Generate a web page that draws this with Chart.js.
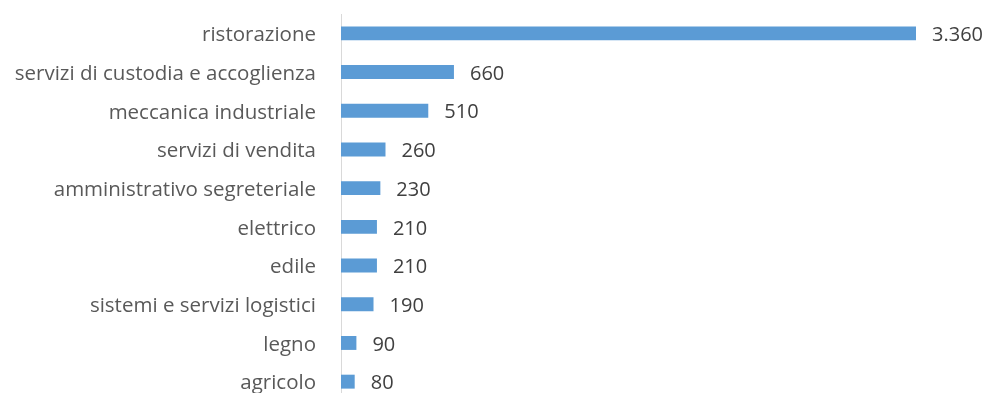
<!DOCTYPE html>
<html>
<head>
<meta charset="utf-8">
<script src="https://cdn.jsdelivr.net/npm/chart.js@4/dist/chart.umd.min.js"></script>
<style>
  html, body { margin: 0; padding: 0; background: #fff; overflow: hidden; }
  canvas { display: block; }
</style>
</head>
<body>
<canvas id="chart" width="989" height="401"></canvas>
<script>
const categories = [
    'ristorazione',
    'servizi di custodia e accoglienza',
    'meccanica industriale',
    'servizi di vendita',
    'amministrativo segreteriale',
    'elettrico',
    'edile',
    'sistemi e servizi logistici',
    'legno',
    'agricolo'
];
const values = [3360, 660, 510, 260, 230, 210, 210, 190, 90, 80];

// thousands separator with a dot, as in the picture
function formatIt(n) {
    return String(n).replace(/\B(?=(\d{3})+(?!\d))/g, '.');
}

const valueLabels = {
    id: 'valueLabels',
    afterDatasetsDraw(chart) {
        const ctx = chart.ctx;
        const meta = chart.getDatasetMeta(0);
        ctx.save();
        ctx.font = '20px "Open Sans"';
        ctx.fillStyle = '#404040';
        ctx.textAlign = 'left';
        ctx.textBaseline = 'middle';
        meta.data.forEach((bar, i) => {
            ctx.fillText(formatIt(values[i]), bar.x + 16, bar.y + 2);
        });
        ctx.restore();
    }
};

const ctx = document.getElementById('chart').getContext('2d');
new Chart(ctx, {
    type: 'bar',
    data: {
        labels: categories,
        datasets: [{
            data: values,
            backgroundColor: '#5B9BD5',
            barPercentage: 0.36,
            categoryPercentage: 1
        }]
    },
    options: {
        indexAxis: 'y',
        responsive: false,
        animation: false,
        layout: { padding: { top: 14, right: 73, bottom: 0, left: 0 } },
        plugins: {
            legend: { display: false },
            tooltip: { enabled: false }
        },
        scales: {
            x: {
                display: false,
                min: 0,
                max: 3360
            },
            y: {
                grid: { display: true, drawOnChartArea: false, drawTicks: false },
                border: { display: true, color: '#d9d9d9', width: 1 },
                ticks: {
                    color: '#595959',
                    padding: 25,
                    labelOffset: 2,
                    font: { family: 'Open Sans', size: 20.5 }
                },
                afterFit(scale) {
                    scale.width = 341;
                    scale.paddingTop = 0;
                    scale.paddingBottom = 0;
                }
            }
        }
    },
    plugins: [valueLabels]
});
</script>
</body>
</html>
